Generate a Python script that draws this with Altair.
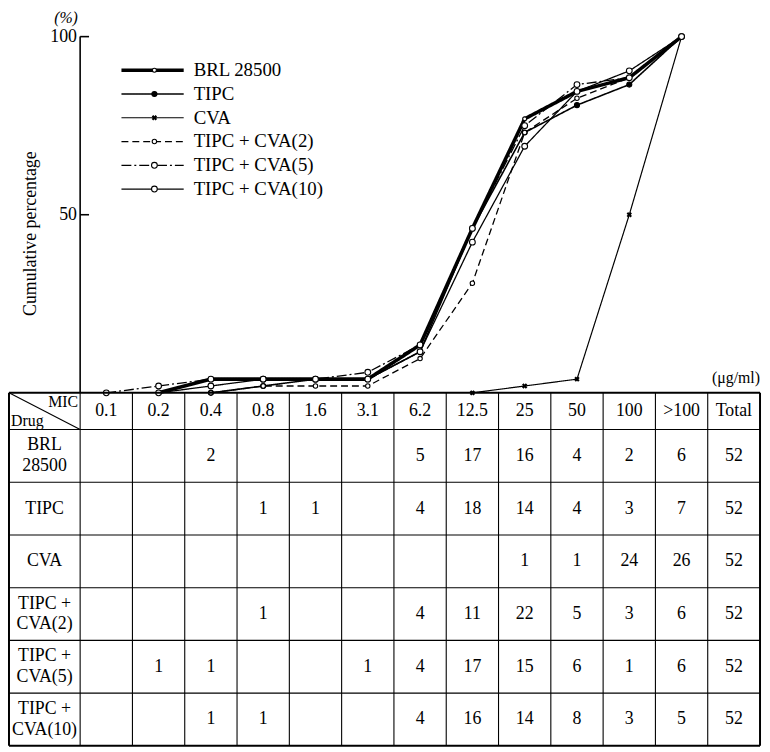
import altair as alt
import pandas as pd
import numpy as np

# ---------------- data ----------------
mic_labels = ["0.1", "0.2", "0.4", "0.8", "1.6", "3.1", "6.2", "12.5", "25", "50", "100", ">100"]
drug_names = ["BRL 28500", "TIPC", "CVA", "TIPC+CVA(2)", "TIPC+CVA(5)", "TIPC+CVA(10)"]
legend_labels = ["BRL 28500", "TIPC", "CVA", "TIPC + CVA(2)", "TIPC + CVA(5)", "TIPC + CVA(10)"]
row_labels = [["BRL", "28500"], ["TIPC"], ["CVA"], ["TIPC +", "CVA(2)"], ["TIPC +", "CVA(5)"], ["TIPC +", "CVA(10)"]]
counts_brl = [0, 0, 2, 0, 0, 0, 5, 17, 16, 4, 2, 6]
counts_tipc = [0, 0, 0, 1, 1, 0, 4, 18, 14, 4, 3, 7]
counts_cva = [0, 0, 0, 0, 0, 0, 0, 0, 1, 1, 24, 26]
counts_tc2 = [0, 0, 0, 1, 0, 0, 4, 11, 22, 5, 3, 6]
counts_tc5 = [0, 1, 1, 0, 0, 1, 4, 17, 15, 6, 1, 6]
counts_tc10 = [0, 0, 1, 1, 0, 0, 4, 16, 14, 8, 3, 5]
totals = [52, 52, 52, 52, 52, 52]
y_ticks = [50, 100]
y_tick_labels = ["50", "100"]

all_counts = [counts_brl, counts_tipc, counts_cva, counts_tc2, counts_tc5, counts_tc10]

# ---------------- layout ----------------
X_LEFT, X_RIGHT = -1.3605, 13.0
Y_TOP, Y_BOTTOM = 106.94, -99.17
PX_PER_UNIT_Y = 3.6
HDR_H, ROW_H = 10.3, 14.8
W, H = 759, 742
FONT = "Liberation Serif"
LINE_H = 21

xs = alt.Scale(domain=[X_LEFT, X_RIGHT], nice=False, zero=False)
ys = alt.Scale(domain=[Y_BOTTOM, Y_TOP], nice=False, zero=False)

def X(f):
    return alt.X(f, type="quantitative", scale=xs, axis=None)

def Y(f):
    return alt.Y(f, type="quantitative", scale=ys, axis=None)

# styles per series: line width, dash, shape, size, fill
styles = {
    "BRL 28500": dict(sw=3.6, dash=[1, 0], shape="circle", size=16, fill="white"),
    "TIPC": dict(sw=1.6, dash=[1, 0], shape="circle", size=26, fill="black"),
    "CVA": dict(sw=1.2, dash=[1, 0], shape="cross", size=30, fill="black"),
    "TIPC+CVA(2)": dict(sw=1.3, dash=[7, 4], shape="circle", size=20, fill="white"),
    "TIPC+CVA(5)": dict(sw=1.3, dash=[10, 3, 2, 3], shape="circle", size=34, fill="white"),
    "TIPC+CVA(10)": dict(sw=1.3, dash=[1, 0], shape="circle", size=34, fill="white"),
}

# cumulative curves
rows = []
for d, cnt, tot in zip(drug_names, all_counts, totals):
    cum = np.cumsum(cnt) / tot * 100.0
    first = next(i for i, v in enumerate(cnt) if v > 0)
    start = max(first - 1, 0)
    for i in range(start, len(mic_labels)):
        rows.append(dict(drug=d, x=i + 0.5, y=float(cum[i]), order=i))
curve_df = pd.DataFrame(rows)

# legend
LEG_X1, LEG_X2, LEG_XM, LEG_XT = 0.79, 1.98, 1.42, 2.17
LEG_Y0, LEG_DY = 90.56, 6.67
leg_df = pd.DataFrame(dict(
    drug=drug_names, label=legend_labels,
    y=[LEG_Y0 - LEG_DY * i for i in range(len(drug_names))],
    x1=LEG_X1, x2=LEG_X2, xm=LEG_XM, xt=LEG_XT,
))

layers = []
for d in drug_names:
    s = styles[d]
    base = alt.Chart(curve_df).transform_filter(alt.datum.drug == d)
    layers.append(base.mark_line(color="black", strokeWidth=s["sw"], strokeDash=s["dash"]).encode(
        x=X("x"), y=Y("y"), order="order:Q"))
    pt = dict(shape=s["shape"], size=s["size"], color="black", fill=s["fill"], filled=True,
              stroke="black", strokeWidth=1.1, opacity=1)
    if s["shape"] == "cross":
        pt["angle"] = 45
        pt["strokeWidth"] = 0
    layers.append(base.mark_point(**pt).encode(x=X("x"), y=Y("y")))
    lb = alt.Chart(leg_df).transform_filter(alt.datum.drug == d)
    layers.append(lb.mark_rule(color="black", strokeWidth=s["sw"], strokeDash=s["dash"]).encode(
        x=X("x1"), x2="x2:Q", y=Y("y")))
    layers.append(lb.mark_point(**pt).encode(x=X("xm"), y=Y("y")))

layers.append(alt.Chart(leg_df).mark_text(font=FONT, fontSize=19, align="left", baseline="middle",
                                          color="black").encode(x=X("xt"), y=Y("y"), text="label:N"))

# y axis (manual)
TICK_LEN = 0.17
axis_df = pd.DataFrame(dict(x=[0.0], y=[0.0], y2=[100.0]))
layers.append(alt.Chart(axis_df).mark_rule(color="black", strokeWidth=1.6).encode(
    x=X("x"), y=Y("y"), y2="y2:Q"))
tick_df = pd.DataFrame(dict(y=y_ticks, label=y_tick_labels, x=0.0, x2=TICK_LEN, xl=-0.06))
layers.append(alt.Chart(tick_df).mark_rule(color="black", strokeWidth=1.6).encode(
    x=X("x"), x2="x2:Q", y=Y("y")))
layers.append(alt.Chart(tick_df).mark_text(font=FONT, fontSize=18, align="right", baseline="middle",
                                           color="black").encode(x=X("xl"), y=Y("y"), text="label:N"))
misc_df = pd.DataFrame(dict(
    x=[-0.27, -0.945, X_RIGHT],
    y=[105.3, 44.7, 4.2],
    text=["(%)", "Cumulative percentage", "(μg/ml)"],
    kind=["unit", "title", "xunit"],
))
layers.append(alt.Chart(misc_df).transform_filter(alt.datum.kind == "unit").mark_text(
    font=FONT, fontSize=16, fontStyle="italic", baseline="middle", color="black").encode(
    x=X("x"), y=Y("y"), text="text:N"))
layers.append(alt.Chart(misc_df).transform_filter(alt.datum.kind == "title").mark_text(
    font=FONT, fontSize=18, angle=270, baseline="middle", color="black").encode(
    x=X("x"), y=Y("y"), text="text:N"))
layers.append(alt.Chart(misc_df).transform_filter(alt.datum.kind == "xunit").mark_text(
    font=FONT, fontSize=16, align="right", baseline="middle", color="black").encode(
    x=X("x"), y=Y("y"), text="text:N"))

# table grid
n_rows = len(drug_names)
table_bottom = -HDR_H - n_rows * ROW_H
h_lines = [0.0, -HDR_H] + [-HDR_H - k * ROW_H for k in range(1, n_rows + 1)]
h_df = pd.DataFrame(dict(y=h_lines, x=X_LEFT, x2=X_RIGHT,
                         sw=[2.0 if (k == 0 or k == len(h_lines) - 1) else 1.1 for k in range(len(h_lines))]))
v_lines = [X_LEFT] + list(range(0, 14))
v_df = pd.DataFrame(dict(x=[float(v) for v in v_lines], y=0.0, y2=table_bottom,
                         sw=[2.0 if (v == X_LEFT or v == 13) else 1.1 for v in v_lines]))
layers.append(alt.Chart(h_df).mark_rule(color="black").encode(
    x=X("x"), x2="x2:Q", y=Y("y"), strokeWidth=alt.StrokeWidth("sw:Q", scale=None)))
layers.append(alt.Chart(v_df).mark_rule(color="black").encode(
    x=X("x"), y=Y("y"), y2="y2:Q", strokeWidth=alt.StrokeWidth("sw:Q", scale=None)))
diag_df = pd.DataFrame(dict(x=[X_LEFT], y=[0.0], x2=[0.0], y2=[-HDR_H]))
layers.append(alt.Chart(diag_df).mark_rule(color="black", strokeWidth=1.1).encode(
    x=X("x"), y=Y("y"), x2="x2:Q", y2="y2:Q"))

# header texts
hdr_df = pd.DataFrame(dict(text=mic_labels + ["Total"], x=[i + 0.5 for i in range(13)], y=-HDR_H / 2))
layers.append(alt.Chart(hdr_df).mark_text(font=FONT, fontSize=18, baseline="middle", color="black").encode(
    x=X("x"), y=Y("y"), text="text:N"))
corner_df = pd.DataFrame(dict(text=["MIC", "Drug"], x=[-0.04, X_LEFT + 0.04], y=[-2.5, -8.0],
                              align=["right", "left"]))
layers.append(alt.Chart(corner_df).transform_filter(alt.datum.align == "right").mark_text(
    font=FONT, fontSize=16, align="right", baseline="middle", color="black").encode(
    x=X("x"), y=Y("y"), text="text:N"))
layers.append(alt.Chart(corner_df).transform_filter(alt.datum.align == "left").mark_text(
    font=FONT, fontSize=16, align="left", baseline="middle", color="black").encode(
    x=X("x"), y=Y("y"), text="text:N"))

# row labels (first line placed so the block is centred in the row)
rl_df = pd.DataFrame(dict(
    text=row_labels,
    x=(X_LEFT + 0) / 2,
    y=[-HDR_H - (k + 0.5) * ROW_H + (len(lbl) - 1) * LINE_H / 2 / PX_PER_UNIT_Y
       for k, lbl in enumerate(row_labels)],
))
layers.append(alt.Chart(rl_df).mark_text(font=FONT, fontSize=18, baseline="middle", lineHeight=LINE_H,
                                         color="black").encode(x=X("x"), y=Y("y"), text="text"))

# cell values
cells = []
for k, (cnt, tot) in enumerate(zip(all_counts, totals)):
    yc = -HDR_H - (k + 0.5) * ROW_H
    for i, v in enumerate(cnt):
        if v > 0:
            cells.append(dict(x=i + 0.5, y=yc, text=str(v)))
    cells.append(dict(x=12.5, y=yc, text=str(tot)))
cell_df = pd.DataFrame(cells)
layers.append(alt.Chart(cell_df).mark_text(font=FONT, fontSize=18, baseline="middle", color="black").encode(
    x=X("x"), y=Y("y"), text="text:N"))

chart = alt.layer(*layers).properties(
    width=W, height=H,
    autosize=alt.AutoSizeParams(type="none"),
    padding={"left": 1, "top": 0, "right": 2, "bottom": 1},
).configure(background="white").configure_view(stroke=None)

chart.save("out.html", embed_options={"renderer": "svg", "actions": False})
